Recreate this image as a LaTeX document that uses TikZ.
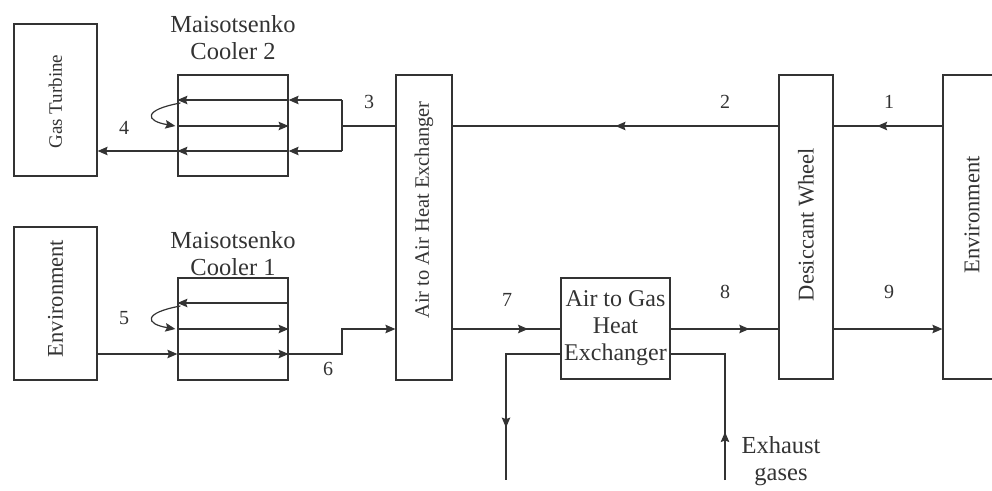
\documentclass[tikz,border=0pt]{standalone}
\usepackage{fontspec}
\setmainfont{Liberation Serif}
\usetikzlibrary{calc, arrows.meta, decorations.markings}
\definecolor{Ink}{HTML}{333333}
\tikzset{
    unitbox/.style={rectangle, draw=Ink, line width=1.2pt, inner sep=0pt, text=Ink, align=center, font=\fontsize{24}{27}\selectfont},
    vtext/.style={rotate=90, text=Ink, font=\fontsize{22.5}{26}\selectfont},
    title/.style={text=Ink, align=center, font=\fontsize{24.5}{27}\selectfont},
    num/.style={text=Ink, font=\fontsize{20}{24}\selectfont},
    pipe/.style={draw=Ink, line width=1.2pt},
    arrow/.style={pipe, -{Stealth[length=10pt, width=8.5pt, inset=1.5pt]}},
    midarrow/.style={pipe, postaction={decorate}, decoration={markings, mark=at position #1 with {\arrow{Stealth[length=10pt, width=8.5pt, inset=1.5pt]}}}},
}

\begin{document}
\begin{tikzpicture}[x=1pt, y=-1pt]
    \useasboundingbox (0,0) rectangle (992,490);
    \clip (0,0) rectangle (992,490);

    % Quote delle linee di flusso
    \coordinate (rA) at (0,100);
    \coordinate (rB) at (0,126);
    \coordinate (rC) at (0,151);
    \coordinate (rD) at (0,303);
    \coordinate (rE) at (0,329);
    \coordinate (rF) at (0,354);

    % Blocchi
    \node[unitbox, minimum width=83, minimum height=152, label={[vtext, font=\fontsize{19}{22}\selectfont, xshift=-1.5]center:Gas Turbine}] (gt) at (55.5,100) {};
    \node[unitbox, minimum width=110, minimum height=101] (mc2) at (233,125.5) {};
    \node[title] (mc2t) at (233,38) {Maisotsenko\\Cooler 2};
    \node[unitbox, minimum width=83, minimum height=153, label={[vtext, xshift=5]center:Environment}] (envl) at (55.5,303.5) {};
    \node[unitbox, minimum width=110, minimum height=102] (mc1) at (233,329) {};
    \node[title] (mc1t) at (233,254) {Maisotsenko\\Cooler 1};
    \node[unitbox, minimum width=56, minimum height=305, label={[vtext, font=\fontsize{20.5}{24}\selectfont, xshift=17.5]center:Air to Air Heat Exchanger}] (aahx) at (424,227.5) {};
    \node[unitbox, minimum width=109, minimum height=101] (aghx) at (615.5,328.5) {Air to Gas\\Heat\\Exchanger};
    \node[unitbox, minimum width=54, minimum height=304, label={[vtext, xshift=2.5]center:Desiccant Wheel}] (dw) at (806,227) {};
    \node[unitbox, minimum width=58, minimum height=304, label={[vtext, xshift=12]center:Environment}] (envr) at (972,227) {};

    % Maisotsenko Cooler 2
    \coordinate (b3) at (342,126);
    \draw[pipe] (aahx.west |- rB) -- (b3);
    \draw[pipe] (b3 |- rA) -- (b3 |- rC);
    \draw[arrow] (b3 |- rA) -- (mc2.east |- rA);
    \draw[arrow] (mc2.east |- rA) -- (mc2.west |- rA);
    \draw[arrow] (mc2.west |- rB) -- (mc2.east |- rB);
    \draw[arrow] (b3 |- rC) -- (mc2.east |- rC);
    \draw[arrow] (mc2.east |- rC) -- (mc2.west |- rC);
    \draw[arrow] (mc2.west |- rC) -- (gt.east |- rC);
    \draw[arrow] ($(mc2.west |- rA)+(3,3)$) .. controls +(-38,7) and +(-30,-5) .. ($(mc2.west |- rB)+(-2,0)$);

    % Maisotsenko Cooler 1
    \coordinate (b6) at (342,354);
    \draw[arrow] (mc1.east |- rD) -- (mc1.west |- rD);
    \draw[arrow] (mc1.west |- rE) -- (mc1.east |- rE);
    \draw[arrow] (envl.east |- rF) -- (mc1.west |- rF);
    \draw[arrow] (mc1.west |- rF) -- (mc1.east |- rF);
    \draw[arrow] (mc1.east |- rF) -- (b6) |- (aahx.west |- rE);
    \draw[arrow] ($(mc1.west |- rD)+(3,3)$) .. controls +(-38,7) and +(-30,-5) .. ($(mc1.west |- rE)+(-2,0)$);

    % Linea principale dell'aria
    \draw[midarrow=0.6] (envr.west |- rB) -- (dw.east |- rB);
    \draw[midarrow=0.5] (dw.west |- rB) -- (aahx.east |- rB);
    \draw[midarrow=0.7] (aahx.east |- rE) -- (aghx.west |- rE);
    \draw[midarrow=0.73] (aghx.east |- rE) -- (dw.west |- rE);
    \draw[arrow] (dw.east |- rE) -- (envr.west |- rE);

    % Gas di scarico
    \coordinate (gin) at (725,480);
    \coordinate (gout) at (506,480);
    \draw[midarrow=48pt] (gin) -- (gin |- rF) -- (aghx.east |- rF);
    \draw[midarrow=128pt] (aghx.west |- rF) -- (gout |- rF) -- (gout);
    \node[title] (exh) at (781,461) {Exhaust\\gases};

    % Numeri degli stati
    \node[num] (n1) at (889,102) {1};
    \node[num] (n2) at (725,102) {2};
    \node[num] (n3) at (369,102) {3};
    \node[num] (n4) at (124,128) {4};
    \node[num] (n5) at (124,318) {5};
    \node[num] (n6) at (328,369) {6};
    \node[num] (n7) at (507,300) {7};
    \node[num] (n8) at (725,292) {8};
    \node[num] (n9) at (889,292) {9};
\end{tikzpicture}
\end{document}
